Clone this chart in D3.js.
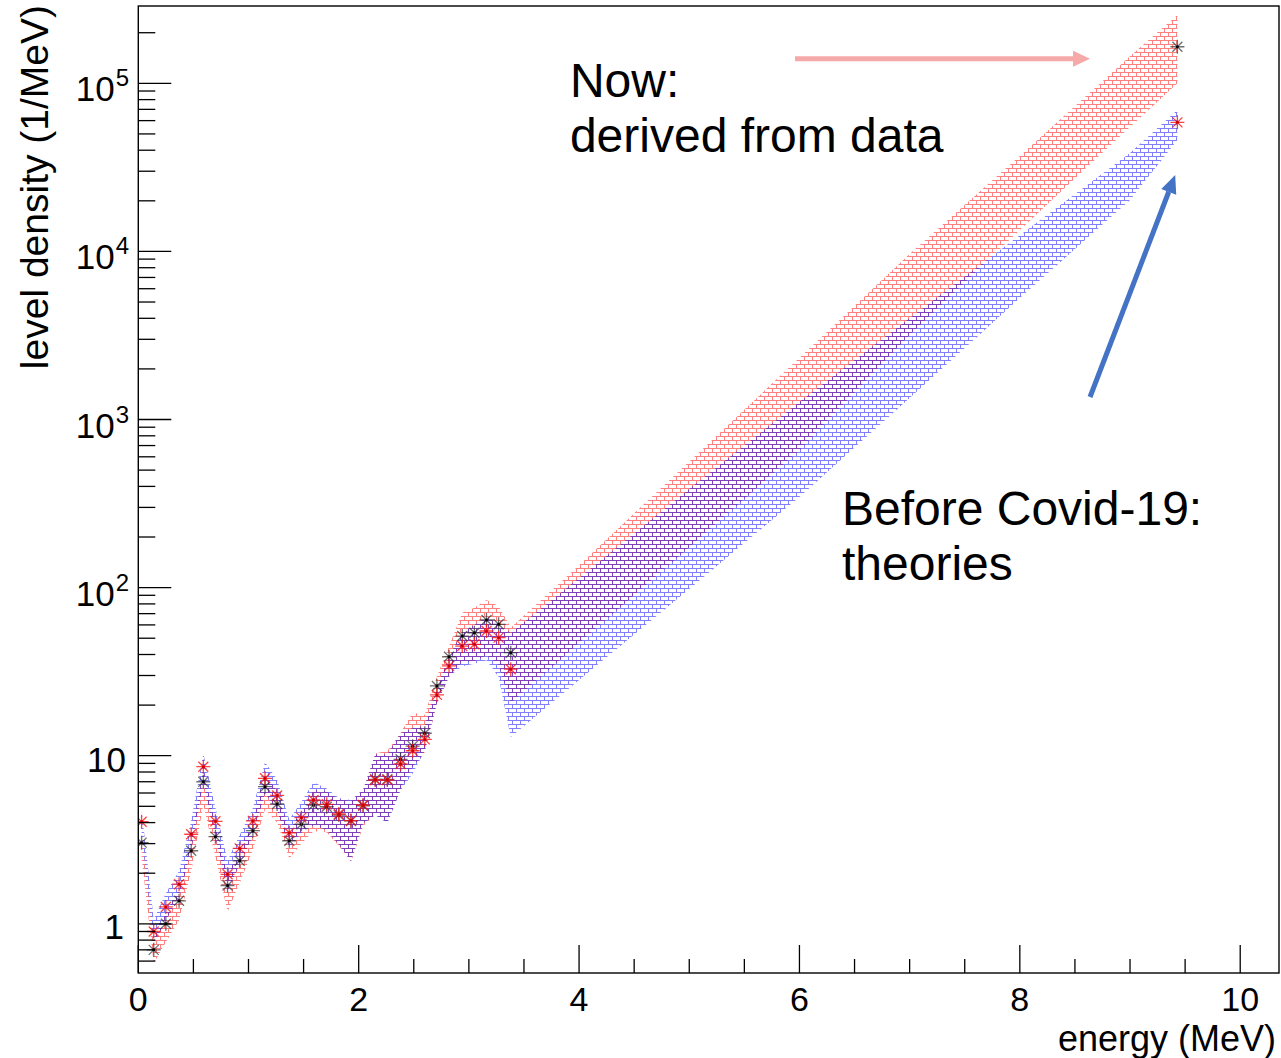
<!DOCTYPE html>
<html><head><meta charset="utf-8">
<script src="https://cdn.jsdelivr.net/npm/d3@7"></script>
<style>
body{margin:0;background:#fff}
svg{display:block}
text{font-family:"Liberation Sans",Arial,Helvetica,sans-serif;fill:#000}
</style>
</head><body>
<svg id="chart" width="1281" height="1058"></svg>
<script>
// ---- data ----
const energies = [0.03,0.14,0.25,0.37,0.48,0.59,0.70,0.81,0.92,1.04,1.15,1.26,1.37,1.48,1.59,1.71,1.82,1.93,2.04,2.15,2.26,2.38,2.49,2.60,2.71,2.82,2.94,3.05,3.16,3.27,3.38];
const densityNow = [3.04,0.70,1.00,1.37,2.72,7.0,3.30,1.69,2.37,3.58,6.54,5.16,3.12,3.91,5.09,4.97,4.44,4.09,5.04,7.24,7.24,9.52,11.4,13.6,26.0,38.8,51.5,53.9,64.2,60.5,41.0];
const nowLow  = [2.50,0.58,0.78,1.05,2.05,5.10,2.50,1.18,1.75,2.75,4.80,4.00,2.45,3.00,3.55,3.50,2.90,2.34,3.80,4.45,4.00,6.30,8.60,10.5,20.4,29.3,36.4,36.5,39.5,34.8,20.6];
const nowHigh = [3.45,0.82,1.16,1.60,3.20,8.40,3.85,1.96,2.76,4.16,7.80,6.15,3.62,4.65,6.30,6.15,5.50,5.40,6.25,10.3,10.7,13.7,18.0,17.5,29.6,44.8,70.8,76.0,84.5,77.6,57.8];
const densityTheory = [4.05,0.90,1.26,1.72,3.41,8.60,4.07,1.97,2.81,4.09,7.34,5.80,3.48,4.28,5.45,5.14,4.50,4.11,5.09,7.17,7.17,8.93,10.7,12.5,23.0,34.2,44.9,46.0,55.2,50.4,32.7];
const theoryLow  = [3.45,0.76,1.05,1.43,2.76,6.90,3.30,1.55,2.28,3.33,6.00,4.74,2.83,3.48,3.85,3.62,2.96,2.36,3.95,4.42,3.96,6.20,7.85,10.7,20.5,29.6,34.0,35.2,37.0,29.4,12.9];
const theoryHigh = [4.75,1.06,1.52,2.06,4.10,10.3,4.90,2.38,3.38,4.90,9.15,7.22,4.18,5.32,6.95,6.38,5.60,5.45,6.32,10.2,10.2,13.6,14.6,15.1,25.8,38.8,54.7,59.9,67.1,61.2,53.7];

// extrapolated tail (band only)
const tailEnergies   = [4, 5, 6, 7, 8, 9, 9.43];
const tailNowLow     = [46.8, 174, 657, 3180, 13400, 55000, 100000];
const tailNowHigh    = [136, 562, 2330, 9650, 37000, 145000, 255000];
const tailTheoryLow  = [28.2, 98, 346, 1343, 5280, 20200, 46000];
const tailTheoryHigh = [114, 386, 1271, 4000, 12500, 38500, 69300];
const endEnergy = [9.43];
const endNow = [165000];
const endTheory = [58600];

const xTickValues = [0, 2, 4, 6, 8, 10];
const yTickExponents = [0, 1, 2, 3, 4, 5];
const xTitle = "energy (MeV)";
const yTitle = "level density (1/MeV)";
const noteNow = ["Now:", "derived from data"];
const noteBefore = ["Before Covid-19:", "theories"];

// ---- layout ----
const svg = d3.select("#chart");
const L = 138.3, R = 1279, T = 6, B = 973;
const x = d3.scaleLinear().domain([0, 10.352]).range([L, R]);
const y = d3.scaleLog().domain([0.5097, 2.884e5]).range([B, T]);

const defs = svg.append("defs");
function brick(id, color) {
  const p = defs.append("pattern").attr("id", id).attr("patternUnits", "userSpaceOnUse")
    .attr("width", 8).attr("height", 8).attr("x", 0).attr("y", 0);
  p.append("path")
    .attr("d", "M0,0.5H8M0,4.5H8M0.5,1V4M4.5,5V8")
    .attr("stroke", color).attr("stroke-width", 1).attr("fill", "none")
    .attr("shape-rendering", "crispEdges");
}
brick("brickRed", "rgba(255,0,0,0.5)");
brick("brickBlue", "rgba(0,0,255,0.5)");
defs.append("clipPath").attr("id", "frameClip").append("rect")
  .attr("x", L).attr("y", T).attr("width", R - L).attr("height", B - T);

function bandRows(e, lo, hi, te, tlo, thi) {
  const rows = e.map((v, i) => ({e: v, lo: lo[i], hi: hi[i]}));
  te.forEach((v, i) => rows.push({e: v, lo: tlo[i], hi: thi[i]}));
  return rows;
}
const area = d3.area().x(d => x(d.e)).y0(d => y(d.lo)).y1(d => y(d.hi));
const plot = svg.append("g").attr("clip-path", "url(#frameClip)");
plot.append("path").datum(bandRows(energies, nowLow, nowHigh, tailEnergies, tailNowLow, tailNowHigh))
  .attr("d", area).attr("fill", "url(#brickRed)");
plot.append("path").datum(bandRows(energies, theoryLow, theoryHigh, tailEnergies, tailTheoryLow, tailTheoryHigh))
  .attr("d", area).attr("fill", "url(#brickBlue)");

function stars(es, vs, color, center) {
  const pts = es.map((e, i) => ({e, v: vs[i]}));
  const s = 7, d = 5;
  const g = plot.append("g");
  pts.forEach(p => {
    const cx = x(p.e), cy = y(p.v);
    g.append("path")
      .attr("d", `M${cx-s},${cy}H${cx+s}M${cx},${cy-s}V${cy+s}M${cx-d},${cy-d}L${cx+d},${cy+d}M${cx-d},${cy+d}L${cx+d},${cy-d}`)
      .attr("stroke", color).attr("stroke-width", 1.3).attr("fill", "none");
    g.append("circle").attr("cx", cx).attr("cy", cy).attr("r", 1.5).attr("fill", center);
  });
}
stars(energies.concat(endEnergy), densityNow.concat(endNow), "rgba(50,50,50,0.7)", "#000");
stars(energies.concat(endEnergy), densityTheory.concat(endTheory), "rgba(255,20,20,0.8)", "#c00");

// ---- frame & axes ----
svg.append("rect").attr("x", L).attr("y", T).attr("width", R - L).attr("height", B - T)
  .attr("fill", "none").attr("stroke", "#000").attr("stroke-width", 1.4);

const xt = svg.append("g");
for (let v = 0; v <= 10.35; v += 0.5) {
  const major = Math.abs(v / 2 - Math.round(v / 2)) < 1e-6;
  xt.append("line").attr("x1", x(v)).attr("x2", x(v)).attr("y1", B).attr("y2", B - (major ? 28 : 14))
    .attr("stroke", "#000").attr("stroke-width", 1.3);
}
xTickValues.forEach(v => {
  xt.append("text").attr("x", x(v)).attr("y", 1011).attr("text-anchor", "middle")
    .attr("font-size", 34).text(v);
});
svg.append("text").attr("x", 1276).attr("y", 1051).attr("text-anchor", "end")
  .attr("font-size", 36).text(xTitle);

const yt = svg.append("g");
const [ymin, ymax] = y.domain();
for (let k = -1; k <= 5; k++) {
  for (let m = 1; m <= 9; m++) {
    const v = m * Math.pow(10, k);
    if (v < ymin || v > ymax) continue;
    yt.append("line").attr("x1", L).attr("x2", L + (m === 1 ? 33 : 17)).attr("y1", y(v)).attr("y2", y(v))
      .attr("stroke", "#000").attr("stroke-width", 1.3);
  }
}
yTickExponents.forEach(k => {
  const ty = y(Math.pow(10, k));
  if (k === 0) {
    yt.append("text").attr("x", 124).attr("y", ty + 15.5).attr("text-anchor", "end").attr("font-size", 35).text("1");
  } else if (k === 1) {
    yt.append("text").attr("x", 126).attr("y", ty + 16).attr("text-anchor", "end").attr("font-size", 35).text("10");
  } else {
    const t = yt.append("text").attr("x", 129).attr("y", ty + 18).attr("text-anchor", "end").attr("font-size", 35);
    t.append("tspan").text("10");
    t.append("tspan").attr("font-size", 24).attr("dy", -15).attr("dx", 1).text(k);
  }
});
svg.append("text").attr("transform", "translate(48,5) rotate(-90)").attr("text-anchor", "end")
  .attr("font-size", 39).text(yTitle);

// ---- annotations ----
const ann = svg.append("g");
ann.append("text").attr("x", x(3.917)).attr("y", 97).attr("font-size", 48).text(noteNow[0]);
ann.append("text").attr("x", x(3.917)).attr("y", 152).attr("font-size", 48).text(noteNow[1]);
ann.append("text").attr("x", x(6.386)).attr("y", 525).attr("font-size", 48).text(noteBefore[0]);
ann.append("text").attr("x", x(6.386)).attr("y", 580).attr("font-size", 48).text(noteBefore[1]);

function arrow(x1, y1, x2, y2, color, w, hl, hw) {
  const ang = Math.atan2(y2 - y1, x2 - x1);
  const bx = x2 - hl * Math.cos(ang), by = y2 - hl * Math.sin(ang);
  const nx = -Math.sin(ang), ny = Math.cos(ang);
  ann.append("line").attr("x1", x1).attr("y1", y1).attr("x2", bx).attr("y2", by)
    .attr("stroke", color).attr("stroke-width", w);
  ann.append("path").attr("d", `M${x2},${y2}L${bx + nx*hw/2},${by + ny*hw/2}L${bx - nx*hw/2},${by - ny*hw/2}Z`)
    .attr("fill", color);
}
arrow(x(5.96), y(1.4e5), x(8.637), y(1.4e5), "#f6a9a9", 5, 17, 16);
arrow(x(8.637), y(1361), x(9.41), y(2.85e4), "#4472c4", 5, 18, 16);
</script>
</body></html>
